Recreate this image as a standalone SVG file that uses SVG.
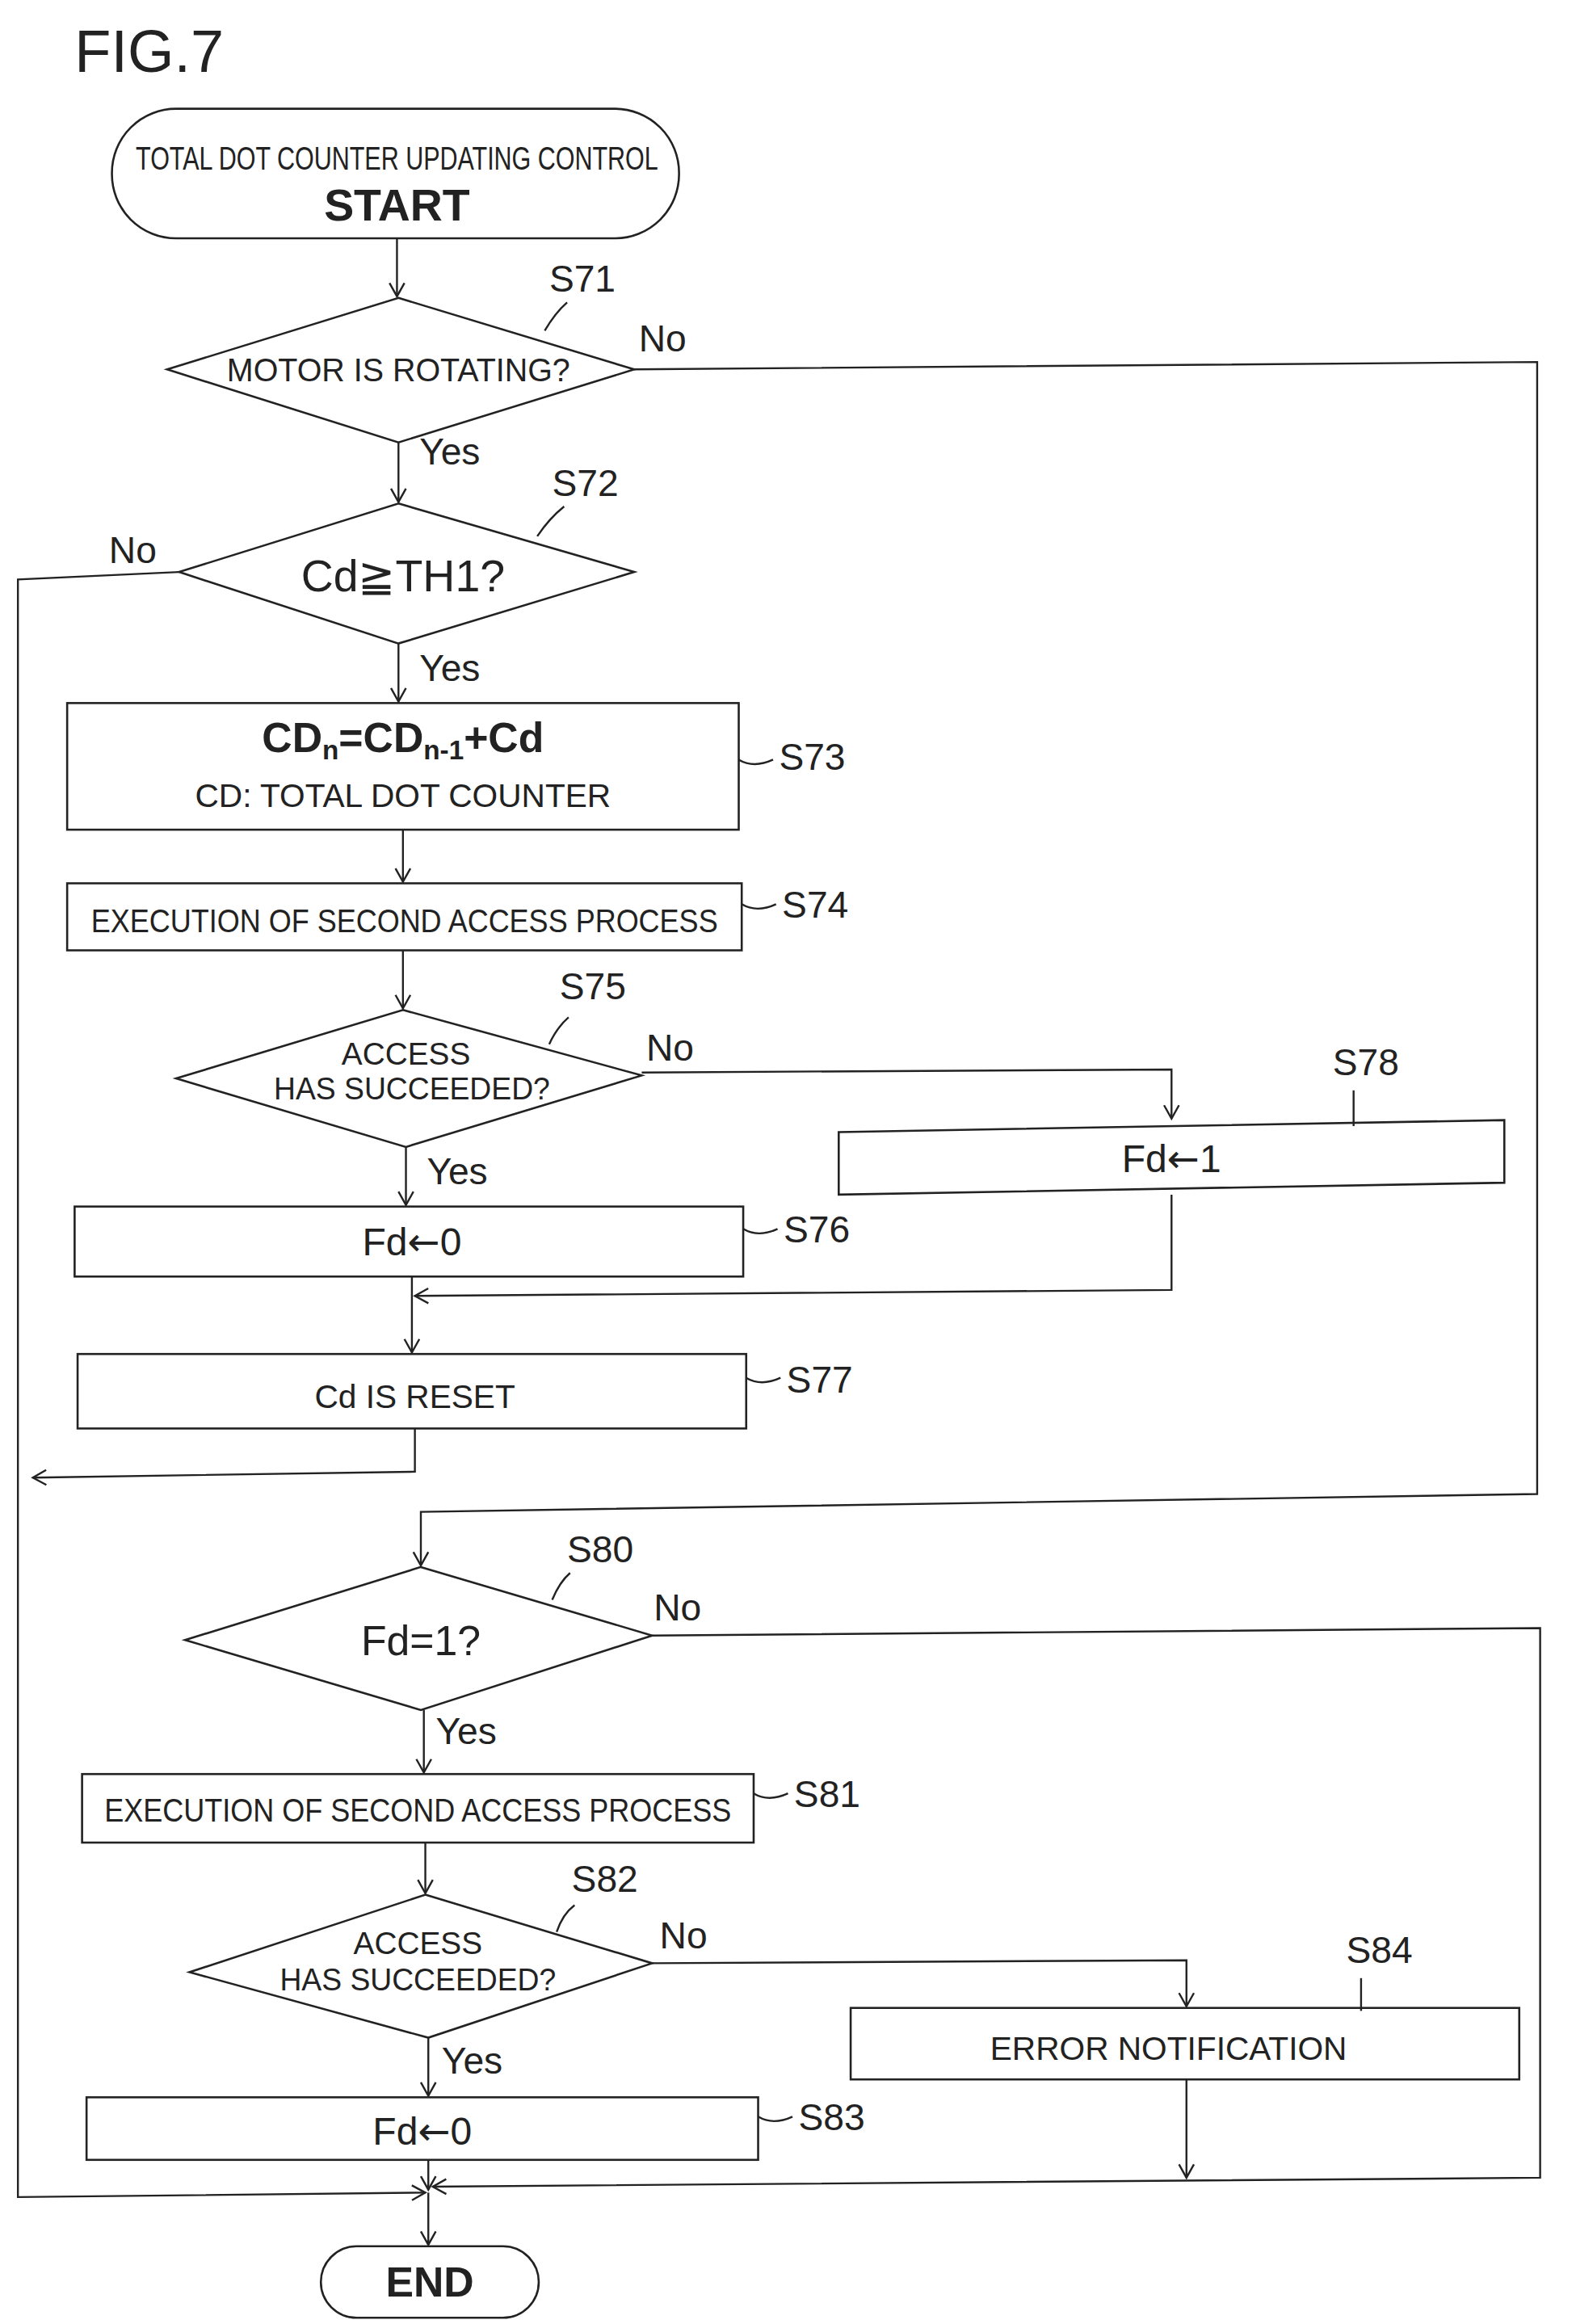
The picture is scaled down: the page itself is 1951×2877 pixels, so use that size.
<svg xmlns="http://www.w3.org/2000/svg" width="1951" height="2877" viewBox="0 0 1951 2877">
<style>
.s{fill:#fff;stroke:#222;stroke-width:1.4}
.c{fill:none;stroke:#222;stroke-width:1.3}
.t{font-family:"Liberation Sans Narrow","Liberation Sans",sans-serif;fill:#222;text-anchor:middle}
.l{font-family:"Liberation Sans Narrow","Liberation Sans",sans-serif;fill:#222;font-size:25px}
.b{font-weight:bold}
.ar{font-family:"DejaVu Sans",sans-serif}
</style>
<defs>
<marker id="a" markerWidth="12" markerHeight="12" refX="10" refY="6" orient="auto" markerUnits="userSpaceOnUse">
<path d="M1,1 L10,6 L1,11" fill="none" stroke="#222" stroke-width="1.3"/>
</marker>
</defs>
<rect width="1951" height="2877" fill="#fff"/>
<g transform="scale(1.8475,1.844)">
<text x="50" y="48" class="l" style="font-size:40px">FIG.7</text>
<g id="connectors">
<path class="c" d="M266,160 L266,199" marker-end="url(#a)"/>
<path class="c" d="M425,248 L1030,243 L1030,1003 L282,1015 L282,1051" marker-end="url(#a)"/>
<path class="c" d="M267,297 L267,337" marker-end="url(#a)"/>
<path class="c" d="M120,384 L12,389 L12,1475 L285,1472" marker-end="url(#a)"/>
<path class="c" d="M267,432 L267,471" marker-end="url(#a)"/>
<path class="c" d="M270,557 L270,592" marker-end="url(#a)"/>
<path class="c" d="M270,638 L270,677" marker-end="url(#a)"/>
<path class="c" d="M430,720 L785,718 L785,751" marker-end="url(#a)"/>
<path class="c" d="M272,770 L272,809" marker-end="url(#a)"/>
<path class="c" d="M785,802 L785,866 L278,870" marker-end="url(#a)"/>
<path class="c" d="M276,857 L276,908" marker-end="url(#a)"/>
<path class="c" d="M278,959 L278,988 L22,992" marker-end="url(#a)"/>
<path class="c" d="M437,1098 L1032,1093 L1032,1462 L290,1468" marker-end="url(#a)"/>
<path class="c" d="M284,1148 L284,1190" marker-end="url(#a)"/>
<path class="c" d="M285,1237 L285,1271" marker-end="url(#a)"/>
<path class="c" d="M437,1318 L795,1316 L795,1347" marker-end="url(#a)"/>
<path class="c" d="M287,1368 L287,1407" marker-end="url(#a)"/>
<path class="c" d="M287,1450 L287,1470" marker-end="url(#a)"/>
<path class="c" d="M795,1396 L795,1462" marker-end="url(#a)"/>
<path class="c" d="M287,1472 L287,1507" marker-end="url(#a)"/>
<text x="428" y="236" class="l">No</text>
<text x="281" y="312" class="l">Yes</text>
<text x="73" y="378" class="l">No</text>
<text x="281" y="457" class="l">Yes</text>
<text x="433" y="712" class="l">No</text>
<text x="286" y="795" class="l">Yes</text>
<text x="438" y="1088" class="l">No</text>
<text x="292" y="1171" class="l">Yes</text>
<text x="442" y="1308" class="l">No</text>
<text x="296" y="1392" class="l">Yes</text>
</g>
<g id="start">
<rect class="s" x="75" y="73" width="380" height="87" rx="43"/>
<text class="t" x="266" y="114" font-size="22" textLength="350" lengthAdjust="spacingAndGlyphs">TOTAL DOT COUNTER UPDATING CONTROL</text>
<text class="t b" x="266" y="148" font-size="30">START</text>
</g>
<g id="S71">
<polygon class="s" points="267,200 425,248 267,297 112,248"/>
<text class="t" x="267" y="256" font-size="22" textLength="230" lengthAdjust="spacingAndGlyphs">MOTOR IS ROTATING?</text>
<path class="c" d="M365,222 Q372,210 380,203"/>
<text x="368" y="196" class="l">S71</text>
</g>
<g id="S72">
<polygon class="s" points="267,338 425,384 267,432 120,384"/>
<text class="t" x="270" y="397" font-size="30">Cd≧TH1?</text>
<path class="c" d="M360,360 Q368,348 378,340"/>
<text x="370" y="333" class="l">S72</text>
</g>
<g id="S73">
<rect class="s" x="45" y="472" width="450" height="85"/>
<text class="t b" x="270" y="505" font-size="28">CD<tspan font-size="18" dy="5">n</tspan><tspan dy="-5">=CD</tspan><tspan font-size="18" dy="5">n-1</tspan><tspan dy="-5">+Cd</tspan></text>
<text class="t" x="270" y="542" font-size="22">CD: TOTAL DOT COUNTER</text>
<path class="c" d="M495,510 Q505,516 518,510"/>
<text x="522" y="517" class="l">S73</text>
</g>
<g id="S74">
<rect class="s" x="45" y="593" width="452" height="45"/>
<text class="t" x="271" y="626" font-size="22" textLength="420" lengthAdjust="spacingAndGlyphs">EXECUTION OF SECOND ACCESS PROCESS</text>
<path class="c" d="M497,607 Q507,613 520,607"/>
<text x="524" y="616" class="l">S74</text>
</g>
<g id="S75">
<polygon class="s" points="270,678 430,722 272,770 118,724"/>
<text class="t" x="272" y="715" font-size="21">ACCESS</text>
<text class="t" x="276" y="738" font-size="21" textLength="185" lengthAdjust="spacingAndGlyphs">HAS SUCCEEDED?</text>
<path class="c" d="M368,701 Q373,690 381,683"/>
<text x="375" y="671" class="l">S75</text>
</g>
<g id="S78">
<polygon class="s" points="562,760 1008,752 1008,794 562,802"/>
<text class="t" x="785" y="787" font-size="26">Fd<tspan class="ar">←</tspan>1</text>
<path class="c" d="M907,732 L907,756"/>
<text x="893" y="722" class="l">S78</text>
</g>
<g id="S76">
<rect class="s" x="50" y="810" width="448" height="47"/>
<text class="t" x="276" y="843" font-size="26">Fd<tspan class="ar">←</tspan>0</text>
<path class="c" d="M498,825 Q508,831 521,825"/>
<text x="525" y="834" class="l">S76</text>
</g>
<g id="S77">
<rect class="s" x="52" y="909" width="448" height="50"/>
<text class="t" x="278" y="945" font-size="22">Cd IS RESET</text>
<path class="c" d="M500,925 Q510,931 523,925"/>
<text x="527" y="935" class="l">S77</text>
</g>
<g id="S80">
<polygon class="s" points="282,1052 437,1098 282,1148 124,1101"/>
<text class="t" x="282" y="1111" font-size="28">Fd=1?</text>
<path class="c" d="M370,1074 Q375,1062 382,1056"/>
<text x="380" y="1049" class="l">S80</text>
</g>
<g id="S81">
<rect class="s" x="55" y="1191" width="450" height="46"/>
<text class="t" x="280" y="1223" font-size="22" textLength="420" lengthAdjust="spacingAndGlyphs">EXECUTION OF SECOND ACCESS PROCESS</text>
<path class="c" d="M505,1204 Q515,1210 528,1204"/>
<text x="532" y="1213" class="l">S81</text>
</g>
<g id="S82">
<polygon class="s" points="285,1272 437,1318 287,1368 127,1324"/>
<text class="t" x="280" y="1312" font-size="21">ACCESS</text>
<text class="t" x="280" y="1336" font-size="21" textLength="185" lengthAdjust="spacingAndGlyphs">HAS SUCCEEDED?</text>
<path class="c" d="M373,1297 Q377,1285 385,1279"/>
<text x="383" y="1270" class="l">S82</text>
</g>
<g id="S84">
<rect class="s" x="570" y="1348" width="448" height="48"/>
<text class="t" x="783" y="1383" font-size="22">ERROR NOTIFICATION</text>
<path class="c" d="M912,1328 L912,1350"/>
<text x="902" y="1318" class="l">S84</text>
</g>
<g id="S83">
<rect class="s" x="58" y="1408" width="450" height="42"/>
<text class="t" x="283" y="1440" font-size="26">Fd<tspan class="ar">←</tspan>0</text>
<path class="c" d="M508,1421 Q518,1427 531,1421"/>
<text x="535" y="1430" class="l">S83</text>
</g>
<g id="end">
<rect class="s" x="215" y="1508" width="146" height="48" rx="24"/>
<text class="t b" x="288" y="1542" font-size="28">END</text>
</g>
</g>
</svg>
